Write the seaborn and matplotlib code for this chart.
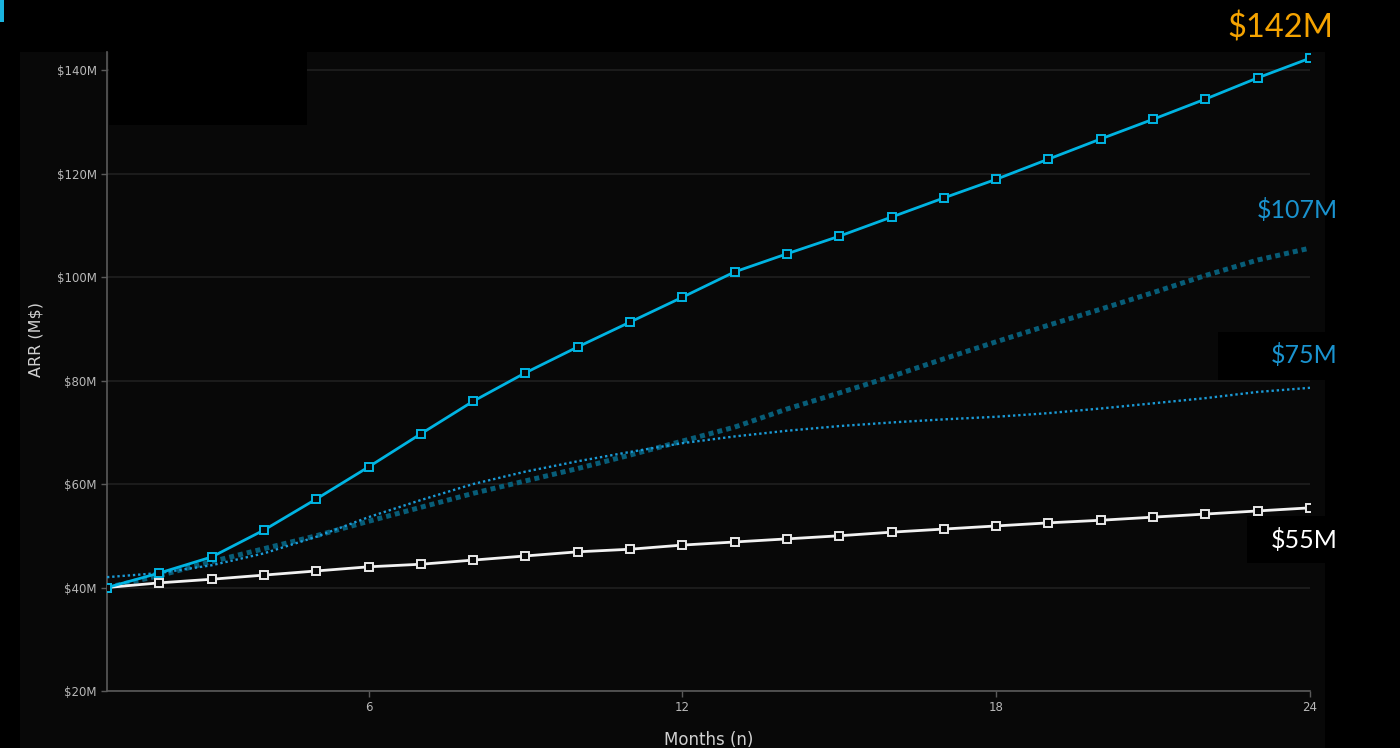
# arr_projection.py
# ARR projection chart, dark theme

import numpy as np
import pandas as pd
import matplotlib
matplotlib.use("Agg")
import matplotlib.pyplot as plt
from matplotlib.patches import Rectangle
from matplotlib.ticker import FuncFormatter
import seaborn as sns

# 1. Data (values in $M)
months = list(range(1, 25))
arr_actual = [40.0, 42.8, 45.9, 51.1, 57.1, 63.3, 69.7, 76.0, 81.5, 86.5, 91.3, 96.1,
              101.0, 104.5, 107.9, 111.6, 115.3, 118.9, 122.8, 126.7, 130.5, 134.4, 138.5, 142.3]
arr_baseline = [40.0, 40.9, 41.6, 42.4, 43.2, 44.0, 44.5, 45.3, 46.1, 46.9, 47.4, 48.2,
                48.8, 49.4, 50.0, 50.7, 51.3, 51.9, 52.5, 53.0, 53.6, 54.2, 54.8, 55.4]
arr_trend = [40.0, 42.3, 45.0, 47.5, 50.0, 52.8, 55.5, 58.2, 60.6, 63.0, 65.6, 68.3,
             71.0, 74.5, 77.6, 80.8, 84.2, 87.5, 90.7, 93.8, 97.0, 100.3, 103.3, 105.6]
arr_plateau = [42.0, 42.8, 44.3, 46.6, 49.8, 53.6, 56.9, 60.0, 62.4, 64.4, 66.2, 67.9,
               69.2, 70.3, 71.2, 71.9, 72.5, 73.0, 73.7, 74.6, 75.6, 76.6, 77.8, 78.6]

x_ticks = [6, 12, 18, 24]
y_ticks = [20, 40, 60, 80, 100, 120, 140]
end_labels = ["$142M", "$107M", "$75M", "$55M"]

df = pd.DataFrame({
    "month": months,
    "actual": arr_actual,
    "baseline": arr_baseline,
    "trend": arr_trend,
    "plateau": arr_plateau,
})

# 2. Style
sns.set_style("dark", {
    "axes.facecolor": "#080808",
    "figure.facecolor": "black",
    "axes.edgecolor": "#5a5a5a",
    "grid.color": "#1f1f1f",
    "axes.grid": True,
    "xtick.bottom": True,
    "ytick.left": True,
    "xtick.color": "#5a5a5a",
    "ytick.color": "#5a5a5a",
})
plt.rcParams["font.family"] = ["DejaVu Sans"]

fig = plt.figure(figsize=(14, 7.48), dpi=100)
fig.patch.set_facecolor("black")

# dark panel behind the chart
fig.patches.append(Rectangle((20 / 1400, 0), 1305 / 1400, 696 / 748,
                             transform=fig.transFigure, facecolor="#080808",
                             edgecolor="none", zorder=-5))
# small accent bar top-left
fig.patches.append(Rectangle((0, 1 - 22 / 748), 4 / 1400, 22 / 748,
                             transform=fig.transFigure, facecolor="#1ab4e0",
                             edgecolor="none", zorder=-5))

ax = fig.add_axes([107 / 1400, 57 / 748, 1203 / 1400, 639 / 748])
ax.set_facecolor("#080808")
ax.set_zorder(1)

# 3. Lines
sns.lineplot(data=df, x="month", y="trend", ax=ax, color="#075d78",
             linewidth=3.6, linestyle=(0, (1, 0.8)), zorder=3)
sns.lineplot(data=df, x="month", y="plateau", ax=ax, color="#1a9ad6",
             linewidth=1.7, linestyle=(0, (1, 1.2)), zorder=3)
sns.lineplot(data=df, x="month", y="baseline", ax=ax, color="#f2f2f2",
             linewidth=2, marker="s", markersize=5.8, markerfacecolor="#080808",
             markeredgecolor="#e8e8e8", markeredgewidth=1.4, zorder=4)
sns.lineplot(data=df, x="month", y="actual", ax=ax, color="#00b4e2",
             linewidth=2, marker="s", markersize=5.8, markerfacecolor="#080808",
             markeredgecolor="#00b4e2", markeredgewidth=1.4, zorder=5)

# 4. Axes
ax.set_xlim(1, 24)
ax.set_ylim(20, 143.5)
ax.set_xticks(x_ticks)
ax.set_yticks(y_ticks)
ax.yaxis.set_major_formatter(FuncFormatter(lambda v, p: f"${v:.0f}M"))
ax.tick_params(axis="both", labelsize=8.5, labelcolor="#b8b8b8", length=4, width=1)
ax.grid(axis="x", visible=False)
ax.grid(axis="y", color="#1f1f1f", linewidth=1.2)
for side in ["top", "right"]:
    ax.spines[side].set_visible(False)
for side in ["left", "bottom"]:
    ax.spines[side].set_color("#5a5a5a")
    ax.spines[side].set_linewidth(1.2)

ax.set_xlabel("Months (n)", fontsize=12, color="#d0d0d0")
ax.set_ylabel("ARR (M$)", fontsize=11.5, color="#d0d0d0")
ax.xaxis.set_label_coords(0.5, -0.062)
ax.yaxis.set_label_coords(-0.053, 0.55)

# 5. Cover boxes and end labels
cover = dict(transform=fig.transFigure, facecolor="black", edgecolor="none", zorder=10)
fig.patches.append(Rectangle((109 / 1400, 1 - 125 / 748), 198 / 1400, 73 / 748, **cover))
fig.patches.append(Rectangle((1218 / 1400, 1 - 380 / 748), 130 / 1400, 48 / 748, **cover))
fig.patches.append(Rectangle((1247 / 1400, 1 - 563 / 748), 100 / 1400, 47 / 748, **cover))

label_font = ["Lato", "Open Sans", "DejaVu Sans"]
fig.text(1333 / 1400, 1 - 28 / 748, end_labels[0], color="#f5a300", fontsize=23.5,
         ha="right", va="center", family=label_font, zorder=11)
fig.text(1338 / 1400, 1 - 210 / 748, end_labels[1], color="#1a93cf", fontsize=18,
         ha="right", va="center", family=label_font, zorder=11)
fig.text(1338 / 1400, 1 - 355 / 748, end_labels[2], color="#1a93cf", fontsize=18,
         ha="right", va="center", family=label_font, zorder=11)
fig.text(1338 / 1400, 1 - 540 / 748, end_labels[3], color="#ffffff", fontsize=18,
         ha="right", va="center", family=label_font, zorder=11)

plt.savefig("out.png", dpi=100, facecolor=fig.get_facecolor())
